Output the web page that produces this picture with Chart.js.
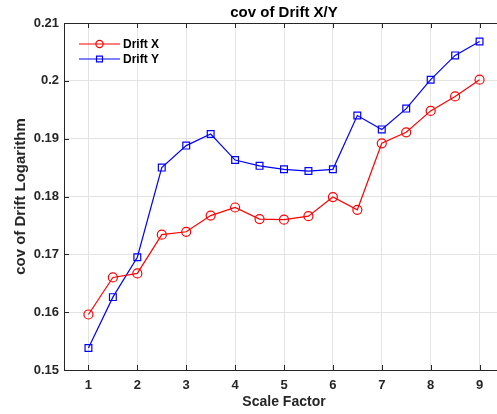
<!DOCTYPE html>
<html>
<head>
<meta charset="utf-8">
<script src="https://cdn.jsdelivr.net/npm/chart.js@4"></script>
<style>
  html, body { margin: 0; padding: 0; background: #fff; overflow: hidden; }
  #wrap { width: 510px; height: 414px; }
</style>
</head>
<body>
<div id="wrap"><canvas id="covChart" width="510" height="414"></canvas></div>
<script>
const scaleFactor = [1, 1.5, 2, 2.5, 3, 3.5, 4, 4.5, 5, 5.5, 6, 6.5, 7, 7.5, 8, 8.5, 9];
const driftX = [0.1596, 0.1660, 0.1667, 0.1734, 0.1739, 0.1767, 0.1781, 0.1761, 0.1760,
                0.1766, 0.1799, 0.1777, 0.1892, 0.1911, 0.1948, 0.1973, 0.2002];
const driftY = [0.1538, 0.1626, 0.1695, 0.1850, 0.1888, 0.1908, 0.1863, 0.1853, 0.1847,
                0.1844, 0.1847, 0.1940, 0.1916, 0.1952, 0.2002, 0.2044, 0.2068];
const xTicks = [1, 2, 3, 4, 5, 6, 7, 8, 9];
const yTicks = [0.15, 0.16, 0.17, 0.18, 0.19, 0.2, 0.21];

const FONT = '"Liberation Sans", Arial, Helvetica, sans-serif';
const AXIS = '#262626';

// box, inside tick marks, title and legend in MATLAB style
const matlabFrame = {
  id: 'matlabFrame',
  afterDraw(chart) {
    const { ctx, chartArea: a, scales } = chart;
    ctx.save();
    ctx.strokeStyle = AXIS;
    ctx.lineWidth = 1;
    ctx.beginPath();
    ctx.moveTo(a.left + 0.5, a.bottom + 0.5);
    ctx.lineTo(a.left + 0.5, a.top + 0.5);
    ctx.lineTo(a.right + 0.5, a.top + 0.5);
    ctx.moveTo(a.left + 0.5, a.bottom + 0.5);
    ctx.lineTo(a.right + 0.5, a.bottom + 0.5);
    xTicks.forEach(v => {
      const x = Math.round(scales.x.getPixelForValue(v)) + 0.5;
      ctx.moveTo(x, a.bottom); ctx.lineTo(x, a.bottom - 5);
      ctx.moveTo(x, a.top); ctx.lineTo(x, a.top + 5);
    });
    yTicks.forEach(v => {
      const y = Math.round(scales.y.getPixelForValue(v)) + 0.5;
      ctx.moveTo(a.left, y); ctx.lineTo(a.left + 5, y);
    });
    ctx.stroke();

    ctx.fillStyle = '#000';
    ctx.font = 'bold 15px ' + FONT;
    ctx.textAlign = 'center';
    ctx.textBaseline = 'middle';
    ctx.fillText('cov of Drift X/Y', (a.left + a.right) / 2, 13);

    // legend
    ctx.font = 'bold 12px ' + FONT;
    ctx.textAlign = 'left';
    chart.data.datasets.forEach((ds, i) => {
      const y = 44 + i * 15;
      ctx.strokeStyle = ds.borderColor;
      ctx.fillStyle = 'rgba(0,0,0,0)';
      ctx.lineWidth = 1.2;
      ctx.beginPath();
      ctx.moveTo(79, y); ctx.lineTo(120, y);
      ctx.stroke();
      Chart.helpers.drawPoint(ctx, {
        pointStyle: ds.pointStyle, radius: ds.pointStyle === 'rect' ? 4.2 : 3.6,
        borderWidth: 1.2, rotation: 0
      }, 99.5, y);
      ctx.fillStyle = '#000';
      ctx.fillText(ds.label, 123, y + 1);
    });
    ctx.restore();
  }
};

const chart = new Chart(document.getElementById('covChart').getContext('2d'), {
  type: 'line',
  data: {
    datasets: [{
      label: 'Drift X',
      data: scaleFactor.map((x, i) => ({ x: x, y: driftX[i] })),
      borderColor: '#ff0000',
      backgroundColor: 'rgba(0,0,0,0)',
      borderWidth: 1.2,
      pointStyle: 'circle',
      pointRadius: 4.5,
      pointBorderWidth: 1.2,
      tension: 0
    }, {
      label: 'Drift Y',
      data: scaleFactor.map((x, i) => ({ x: x, y: driftY[i] })),
      borderColor: '#0000ff',
      backgroundColor: 'rgba(0,0,0,0)',
      borderWidth: 1.2,
      pointStyle: 'rect',
      pointRadius: 4.8,
      pointBorderWidth: 1.2,
      tension: 0
    }]
  },
  options: {
    responsive: false,
    animation: false,
    devicePixelRatio: 1,
    layout: { padding: { top: 23, right: 0, left: 0, bottom: 0 } },
    scales: {
      x: {
        type: 'linear',
        min: 0.5,
        max: 9.5,
        afterBuildTicks: s => { s.ticks = xTicks.map(v => ({ value: v })); },
        afterFit: s => { s.height = 44; },
        grid: { color: '#e3e3e3', drawTicks: false },
        border: { display: false },
        ticks: {
          padding: 8,
          color: AXIS,
          font: { family: FONT, size: 13, weight: 'bold' }
        },
        title: {
          display: true,
          text: 'Scale Factor',
          color: AXIS,
          font: { family: FONT, size: 14, weight: 'bold' },
          padding: { top: 0, bottom: 3 }
        }
      },
      y: {
        min: 0.15,
        max: 0.21,
        afterBuildTicks: s => { s.ticks = yTicks.map(v => ({ value: v })); },
        afterFit: s => { s.width = 64; },
        grid: { color: '#e3e3e3', drawTicks: false },
        border: { display: false },
        ticks: {
          padding: 5,
          color: AXIS,
          font: { family: FONT, size: 13, weight: 'bold' },
          callback: v => String(parseFloat(v.toFixed(2)))
        },
        title: {
          display: true,
          text: 'cov of Drift Logarithm',
          color: AXIS,
          font: { family: FONT, size: 15, weight: 'bold' },
          padding: { top: 12, bottom: 0 }
        }
      }
    },
    plugins: {
      legend: { display: false },
      title: { display: false },
      tooltip: { enabled: false }
    }
  },
  plugins: [matlabFrame]
});
</script>
</body>
</html>
